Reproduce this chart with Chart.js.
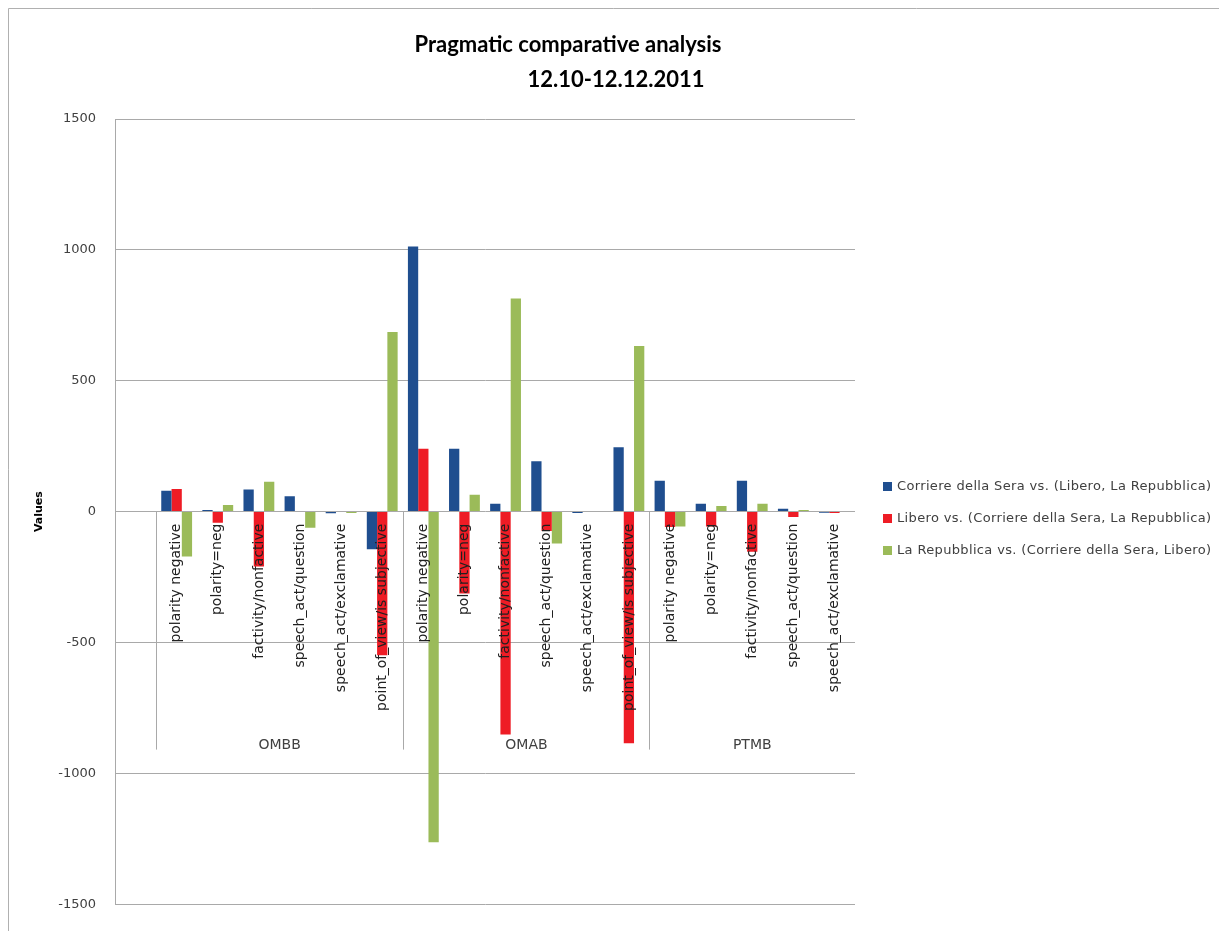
<!DOCTYPE html>
<html>
<head>
<meta charset="utf-8">
<title>Pragmatic comparative analysis</title>
<script src="https://cdn.jsdelivr.net/npm/chart.js@4.4.1/dist/chart.umd.min.js"></script>
<style>
    html, body { margin: 0; padding: 0; background: #fff; }
    #wrap { position: relative; width: 1219px; height: 931px; }
</style>
</head>
<body>
<div id="wrap">
    <canvas id="myChart" width="1219" height="931"></canvas>
</div>
<script>
// data
const titleLines = ["Pragmatic comparative analysis", "12.10-12.12.2011"];
const groups = ["OMBB", "OMAB", "PTMB"];
const groupSizes = [6, 6, 5];
const categories = [
    "polarity negative", "polarity=neg", "factivity/nonfactive", "speech_act/question", "speech_act/exclamative", "point_of_view/is subjective",
    "polarity negative", "polarity=neg", "factivity/nonfactive", "speech_act/question", "speech_act/exclamative", "point_of_view/is subjective",
    "polarity negative", "polarity=neg", "factivity/nonfactive", "speech_act/question", "speech_act/exclamative"
];
const seriesNames = [
    "Corriere della Sera vs. (Libero, La Repubblica)",
    "Libero vs. (Corriere della Sera, La Repubblica)",
    "La Repubblica vs. (Corriere della Sera, Libero)"
];
const corriere   = [80, 6, 84, 59, -6, -144,   1013, 240, 30, 192, -5, 246,   118, 30, 118, 11, -4];
const libero     = [86, -43, -210, 0, 0, -549,  240, -313, -852, -74, 0, -885,  -59, -57, -153, -21, -5];
const repubblica = [-172, 25, 114, -62, -5, 686, -1263, 64, 814, -122, 0, 633,  -57, 21, 30, 6, 0];
const seriesColors = ["#1f4e8f", "#ee1c25", "#9bbb59"];
const yMin = -1500, yMax = 1500, yStep = 500;

// first slot of the axis stays empty (gap between value axis and OMBB)
const labels = [""].concat(categories);
const pad = arr => [null].concat(arr);

const gridColor = "#a9a9a9";
const textColor = "#404040";

const decorPlugin = {
    id: "decor",
    beforeDraw(chart) {
        const ctx = chart.ctx;
        ctx.save();
        ctx.fillStyle = "#fff";
        ctx.fillRect(0, 0, chart.width, chart.height);
        ctx.strokeStyle = "#b0b0b0";
        ctx.lineWidth = 1;
        ctx.beginPath();
        ctx.moveTo(8.5, chart.height);
        ctx.lineTo(8.5, 8.5);
        ctx.lineTo(chart.width, 8.5);
        ctx.stroke();
        ctx.restore();
    },
    afterDatasetsDraw(chart) {
        const ctx = chart.ctx;
        const xs = chart.scales.x, ys = chart.scales.y;
        const y0 = ys.getPixelForValue(0);
        const half = (xs.getPixelForValue(2) - xs.getPixelForValue(1)) / 2;

        ctx.save();
        // category labels, rotated, hanging from the zero line
        ctx.font = '14px "DejaVu Sans"';
        ctx.fillStyle = "#202020";
        ctx.textAlign = "right";
        ctx.textBaseline = "middle";
        categories.forEach((c, i) => {
            const x = xs.getPixelForValue(i + 1);
            ctx.save();
            ctx.translate(x, y0 + 12);
            ctx.rotate(-Math.PI / 2);
            ctx.fillText(c, 0, 0);
            ctx.restore();
        });

        // group separators and group names
        ctx.strokeStyle = gridColor;
        ctx.lineWidth = 1;
        ctx.font = '14px "DejaVu Sans"';
        ctx.textAlign = "center";
        ctx.fillStyle = textColor;
        let start = 1;
        groups.forEach((g, gi) => {
            const end = start + groupSizes[gi] - 1;
            const left = Math.round(xs.getPixelForValue(start) - half) + 0.5;
            const right = xs.getPixelForValue(end) + half;
            ctx.beginPath();
            ctx.moveTo(left, y0);
            ctx.lineTo(left, y0 + 238);
            ctx.stroke();
            ctx.fillText(g, (left + right) / 2, y0 + 234);
            start = end + 1;
        });
        ctx.restore();
    },
    afterDraw(chart) {
        const ctx = chart.ctx;
        ctx.save();
        // title
        ctx.font = 'bold 22px Lato';
        ctx.fillStyle = "#000";
        ctx.textAlign = "center";
        ctx.textBaseline = "middle";
        ctx.fillText(titleLines[0], 568, 45);
        ctx.fillText(titleLines[1], 616, 80);

        // legend
        ctx.font = '13px "DejaVu Sans"';
        ctx.letterSpacing = "0.35px";
        ctx.textAlign = "left";
        seriesNames.forEach((n, i) => {
            const y = 487 + i * 32;
            ctx.fillStyle = seriesColors[i];
            ctx.fillRect(883, y - 5, 9, 9);
            ctx.fillStyle = textColor;
            ctx.fillText(n, 897, y);
        });
        ctx.restore();
    }
};

const ctx = document.getElementById("myChart").getContext("2d");
new Chart(ctx, {
    type: "bar",
    data: {
        labels: labels,
        datasets: [
            { label: seriesNames[0], data: pad(corriere),   backgroundColor: seriesColors[0] },
            { label: seriesNames[1], data: pad(libero),     backgroundColor: seriesColors[1] },
            { label: seriesNames[2], data: pad(repubblica), backgroundColor: seriesColors[2] }
        ]
    },
    options: {
        responsive: false,
        animation: false,
        devicePixelRatio: 1,
        layout: { padding: { top: 119, right: 364, bottom: 14, left: 0 } },
        datasets: { bar: { categoryPercentage: 0.75, barPercentage: 1.0, borderWidth: 0 } },
        plugins: {
            legend: { display: false },
            title: { display: false },
            tooltip: { enabled: false }
        },
        scales: {
            x: { type: "category", display: false },
            y: {
                min: yMin,
                max: yMax,
                ticks: {
                    stepSize: yStep,
                    color: textColor,
                    font: { family: "DejaVu Sans", size: 13 },
                    padding: 19,
                    callback: v => String(v)
                },
                grid: { color: gridColor, drawTicks: false },
                border: { color: gridColor },
                title: { display: true, text: "Values", color: "#000", font: { family: "DejaVu Sans", size: 11, weight: "bold" }, padding: { top: 33 } },
                afterFit(scale) { scale.width = 115; }
            }
        }
    },
    plugins: [decorPlugin]
});
</script>
</body>
</html>
